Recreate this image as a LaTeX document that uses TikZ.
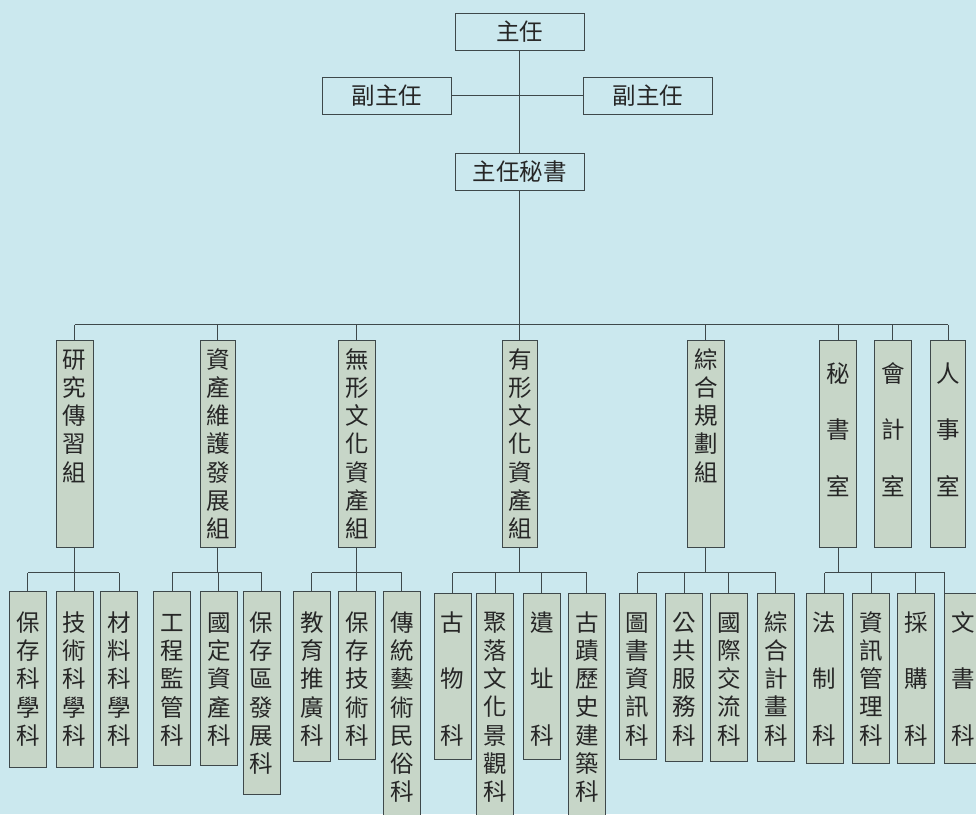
\documentclass[tikz,border=0pt]{standalone}
\usepackage{fontspec}
\setmainfont{Noto Sans CJK TC}
\definecolor{bg}{RGB}{203,232,238}
\definecolor{boxfill}{RGB}{199,214,200}
\definecolor{ln}{RGB}{62,72,74}
\tikzset{
  topbox/.style={draw=ln, line width=0.9pt, inner sep=0pt, outer sep=0pt,
    minimum width=129pt, minimum height=37pt, font=\fontsize{23.5}{26}\selectfont, text=black!85},
  vbox/.style={draw=ln, fill=boxfill, line width=0.9pt, inner sep=0pt, outer sep=0pt},
  vtxt/.style={align=center, inner sep=0pt, outer sep=0pt, anchor=north,
    font=\fontsize{23.5}{28.2}\selectfont, text=black!85},
  conn/.style={draw=ln, line width=0.9pt}
}
\newcommand{\gbox}[5]{\node[vbox, minimum width={(#4-#2)*1pt}, minimum height={(#5-#3)*1pt}] (#1) at ({(#2+#4)/2},{(#3+#5)/2}) {};}
\newcommand{\vt}[4]{\node[vtxt] (#1) at (#2.center |- 0,#3) {\rule{0pt}{22pt}#4};}
\newcommand{\gap}{\\[28.2pt]}
\begin{document}
\begin{tikzpicture}[x=1pt,y=-1pt]
\useasboundingbox (0,0) rectangle (976,814);
\fill[bg] (0,0) rectangle (976,814);
\clip (0,0) rectangle (976,814);
% top
\node[topbox] (zr) at (519.5,31.7) {主任};
\node[topbox] (fl) at (387.2,95.8) {副主任};
\node[topbox] (fr) at (648.2,95.8) {副主任};
\node[topbox] (ms) at (519.5,171.8) {主任秘書};
\draw[conn] (zr.south) -- (ms.north);
\draw[conn] (fl.east) -- (fr.west);
% second level
\gbox{g1}{56}{340.3}{93}{547}
\gbox{g2}{200.3}{340.3}{235.3}{547}
\gbox{g3}{338.3}{340.3}{375.3}{547}
\gbox{g4}{502.3}{340.3}{537.3}{547}
\gbox{g5}{687.3}{340.3}{724.3}{547}
\gbox{g6}{819.7}{340.3}{856.3}{547}
\gbox{g7}{874.3}{340.3}{911.3}{547}
\gbox{g8}{930.7}{340.3}{965.7}{547}
\vt{tg1}{g1}{346.3}{研\\究\\傳\\習\\組}
\vt{tg2}{g2}{346.3}{資\\產\\維\\護\\發\\展\\組}
\vt{tg3}{g3}{346.3}{無\\形\\文\\化\\資\\產\\組}
\vt{tg4}{g4}{346.3}{有\\形\\文\\化\\資\\產\\組}
\vt{tg5}{g5}{346.3}{綜\\合\\規\\劃\\組}
\vt{tg6}{g6}{360.3}{秘\gap 書\gap 室}
\vt{tg7}{g7}{360.3}{會\gap 計\gap 室}
\vt{tg8}{g8}{360.3}{人\gap 事\gap 室}
\coordinate (bus) at (0,324.7);
\draw[conn] (g1.north |- bus) -- (g8.north |- bus);
\draw[conn] (ms.south) -- (ms.south |- bus);
\foreach \g in {g1,g2,g3,g4,g5,g6,g7,g8} \draw[conn] (\g.north) -- (\g.north |- bus);
% third level
\gbox{c11}{9.3}{591.7}{46.3}{767}
\gbox{c12}{56}{591.7}{93}{767}
\gbox{c13}{100.7}{591.7}{137.7}{767}
\gbox{c21}{153.3}{591.7}{190.7}{765}
\gbox{c22}{200.3}{591.7}{237.3}{765}
\gbox{c23}{243}{591.7}{280}{794.3}
\gbox{c31}{293.3}{591.7}{330.3}{761}
\gbox{c32}{338.3}{591.7}{375.3}{759.3}
\gbox{c33}{383.3}{591.7}{420.3}{830}
\gbox{c41}{434}{593.3}{471}{759.3}
\gbox{c42}{476.7}{593.3}{513.7}{830}
\gbox{c43}{523.3}{593.3}{560.3}{759.3}
\gbox{c44}{568.3}{593.3}{605.3}{830}
\gbox{c51}{619}{593.3}{656}{759.3}
\gbox{c52}{665.7}{593.3}{702.7}{761.3}
\gbox{c53}{710.3}{593.3}{747.3}{761.3}
\gbox{c54}{757.3}{593.3}{794.3}{761.3}
\gbox{c61}{806}{593.3}{843.3}{763}
\gbox{c62}{852.7}{593.3}{889.7}{763}
\gbox{c63}{897.3}{593.3}{934.3}{763}
\gbox{c64}{944.3}{593.3}{981.3}{763}
\vt{tc11}{c11}{609.5}{保\\存\\科\\學\\科}
\vt{tc12}{c12}{609.5}{技\\術\\科\\學\\科}
\vt{tc13}{c13}{609.5}{材\\料\\科\\學\\科}
\vt{tc21}{c21}{609.5}{工\\程\\監\\管\\科}
\vt{tc22}{c22}{609.5}{國\\定\\資\\產\\科}
\vt{tc23}{c23}{609.5}{保\\存\\區\\發\\展\\科}
\vt{tc31}{c31}{609.5}{教\\育\\推\\廣\\科}
\vt{tc32}{c32}{609.5}{保\\存\\技\\術\\科}
\vt{tc33}{c33}{609.5}{傳\\統\\藝\\術\\民\\俗\\科}
\vt{tc41}{c41}{609.2}{古\gap 物\gap 科}
\vt{tc42}{c42}{609.2}{聚\\落\\文\\化\\景\\觀\\科}
\vt{tc43}{c43}{609.2}{遺\gap 址\gap 科}
\vt{tc44}{c44}{609.2}{古\\蹟\\歷\\史\\建\\築\\科}
\vt{tc51}{c51}{609.2}{圖\\書\\資\\訊\\科}
\vt{tc52}{c52}{609.2}{公\\共\\服\\務\\科}
\vt{tc53}{c53}{609.2}{國\\際\\交\\流\\科}
\vt{tc54}{c54}{609.2}{綜\\合\\計\\畫\\科}
\vt{tc61}{c61}{609.2}{法\gap 制\gap 科}
\vt{tc62}{c62}{609.2}{資\\訊\\管\\理\\科}
\vt{tc63}{c63}{609.2}{採\gap 購\gap 科}
\vt{tc64}{c64}{609.2}{文\gap 書\gap 科}
\coordinate (sub) at (0,572.7);
\draw[conn] (c11.north |- sub) -- (c13.north |- sub);
\draw[conn] (c21.north |- sub) -- (c23.north |- sub);
\draw[conn] (c31.north |- sub) -- (c33.north |- sub);
\draw[conn] (c41.north |- sub) -- (c44.north |- sub);
\draw[conn] (c51.north |- sub) -- (c54.north |- sub);
\draw[conn] (c61.north |- sub) -- ([xshift=-18pt]c64.north |- sub);
\foreach \g in {g1,g2,g3,g4,g5,g6} \draw[conn] (\g.south) -- (\g.south |- sub);
\foreach \c in {c11,c12,c13,c21,c22,c23,c31,c32,c33,c41,c42,c43,c44,c51,c52,c53,c54,c61,c62,c63}
  \draw[conn] (\c.north) -- (\c.north |- sub);
\draw[conn] ([xshift=-18pt]c64.north) -- ([xshift=-18pt]c64.north |- sub);
\end{tikzpicture}
\end{document}
